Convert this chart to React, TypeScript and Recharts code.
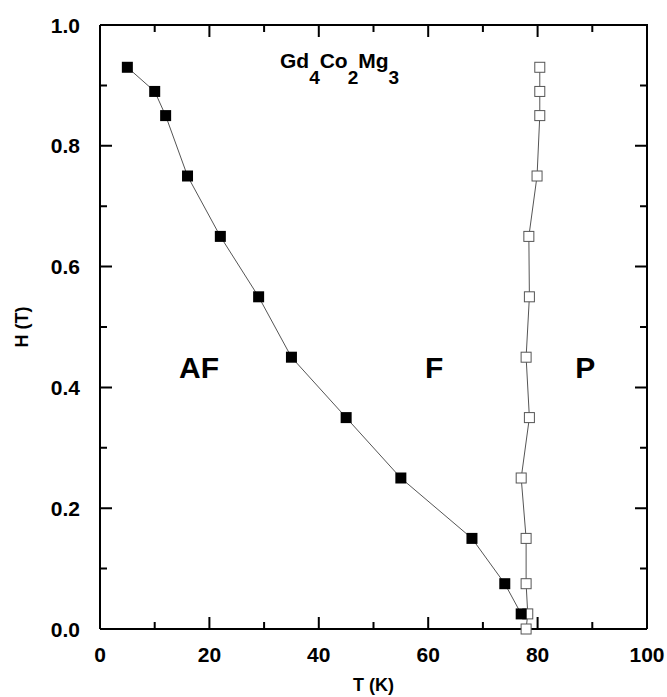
import React from 'react';
import { ScatterChart, Scatter, XAxis, YAxis, ReferenceDot } from 'recharts';

// antiferro -> ferro transition (filled squares)
const afT = [5, 10, 12, 16, 22, 29, 35, 45, 55, 68, 74, 77];
const afH = [0.93, 0.89, 0.85, 0.75, 0.65, 0.55, 0.45, 0.35, 0.25, 0.15, 0.075, 0.025];

// ferro -> para transition (open squares)
const pT = [80.4, 80.4, 80.4, 79.9, 78.4, 78.5, 77.9, 78.5, 77.0, 77.9, 77.9, 78.2, 77.9];
const pH = [0.93, 0.89, 0.85, 0.75, 0.65, 0.55, 0.45, 0.35, 0.25, 0.15, 0.075, 0.025, 0.0];

const xTicks = [0, 10, 20, 30, 40, 50, 60, 70, 80, 90, 100];
const yTicks = [0, 0.1, 0.2, 0.3, 0.4, 0.5, 0.6, 0.7, 0.8, 0.9, 1.0];

const regionLabels = [
  { text: 'AF', t: 18.1, h: 0.434 },
  { text: 'F', t: 61.1, h: 0.434 },
  { text: 'P', t: 88.7, h: 0.434 },
];

const afData = afT.map((t, i) => ({ t, h: afH[i] }));
const pData = pT.map((t, i) => ({ t, h: pH[i] }));

const FONT = '"Liberation Sans", Arial, sans-serif';

const W = 667;
const H = 697;
const MARGIN = { top: 25, right: 20, left: 40, bottom: 0 };
const YAXIS_W = 60;
const XAXIS_H = 68;
const PLOT_W = W - MARGIN.left - YAXIS_W - MARGIN.right;
const PLOT_H = H - MARGIN.top - MARGIN.bottom - XAXIS_H;

const isMajorX = (v: number) => v % 20 === 0;
const isMajorY = (v: number) => Math.round(v * 10) % 2 === 0;

// bottom tick: inward mark at the bottom, mirrored mark at the top, label below
const BottomTick = (props: any) => {
  const { x, y, payload } = props;
  const v = payload.value;
  const len = isMajorX(v) ? 12 : 7;
  const top = y - PLOT_H;
  return (
    <g>
      <path d={`M${x},${y}L${x},${y - len}M${x},${top}L${x},${top + len}`} stroke="#000" strokeWidth={2} fill="none" />
      {isMajorX(v) ? (
        <text x={x} y={y + 33} textAnchor="middle" fontFamily={FONT} fontWeight="bold" fontSize={21} fill="#000">
          {v}
        </text>
      ) : null}
    </g>
  );
};

// left tick: inward mark at the left, mirrored mark at the right, label to the left
const LeftTick = (props: any) => {
  const { x, y, payload } = props;
  const v = payload.value;
  const len = isMajorY(v) ? 12 : 7;
  const right = x + PLOT_W;
  return (
    <g>
      <path d={`M${x},${y}L${x + len},${y}M${right},${y}L${right - len},${y}`} stroke="#000" strokeWidth={2} fill="none" />
      {isMajorY(v) ? (
        <text x={x - 20} y={y + 7.5} textAnchor="end" fontFamily={FONT} fontWeight="bold" fontSize={21} fill="#000">
          {v.toFixed(1)}
        </text>
      ) : null}
      {v === 1 ? (
        <path d={`M${x},${y}L${right},${y}L${right},${y + PLOT_H}`} stroke="#000" strokeWidth={2} fill="none" />
      ) : null}
    </g>
  );
};

const FilledSquare = (props: any) => {
  const { cx, cy } = props;
  return <rect x={cx - 5.5} y={cy - 5.5} width={11} height={11} fill="#000" />;
};

const OpenSquare = (props: any) => {
  const { cx, cy } = props;
  return <rect x={cx - 5} y={cy - 5} width={10} height={10} fill="#fff" stroke="#555" strokeWidth={1} />;
};

const Title = (props: any) => {
  const vb = props.viewBox;
  const x = vb.x + (vb.width || 0) / 2;
  const y = vb.y + (vb.height || 0) / 2;
  return (
    <text x={x} y={y} fontFamily={FONT} fontWeight="bold" fontSize={21} fill="#000">
      Gd
      <tspan dy={16} fontSize={19}>4</tspan>
      <tspan dy={-16}>Co</tspan>
      <tspan dy={16} fontSize={19}>2</tspan>
      <tspan dy={-16}>Mg</tspan>
      <tspan dy={16} fontSize={19}>3</tspan>
    </text>
  );
};

export default function App() {
  return (
    <div style={{ position: 'absolute', left: 0, top: 0 }}>
      <ScatterChart width={W} height={H} margin={MARGIN}>
        <XAxis
          type="number"
          dataKey="t"
          domain={[0, 100]}
          ticks={xTicks}
          interval={0}
          tickSize={0}
          tickMargin={0}
          height={XAXIS_H}
          axisLine={{ stroke: '#000', strokeWidth: 2 }}
          tickLine={false}
          tick={<BottomTick />}
          label={{
            value: 'T (K)',
            position: 'insideBottom',
            offset: 6,
            style: { fontFamily: FONT, fontWeight: 'bold', fontSize: 18, fill: '#000' },
          }}
        />
        <YAxis
          type="number"
          dataKey="h"
          domain={[0, 1]}
          ticks={yTicks}
          interval={0}
          tickSize={0}
          tickMargin={0}
          width={YAXIS_W}
          axisLine={{ stroke: '#000', strokeWidth: 2 }}
          tickLine={false}
          tick={<LeftTick />}
          label={{
            value: 'H (T)',
            angle: -90,
            position: 'insideLeft',
            offset: -18,
            style: { fontFamily: FONT, fontWeight: 'bold', fontSize: 18, fill: '#000', textAnchor: 'middle' },
          }}
        />
        <Scatter
          data={pData}
          line={{ stroke: '#555', strokeWidth: 1 }}
          lineType="joint"
          shape={<OpenSquare />}
          isAnimationActive={false}
        />
        <Scatter
          data={afData}
          line={{ stroke: '#555', strokeWidth: 1 }}
          lineType="joint"
          shape={<FilledSquare />}
          isAnimationActive={false}
        />
        {regionLabels.map((r) => (
          <ReferenceDot
            key={r.text}
            x={r.t}
            y={r.h}
            r={1}
            fill="none"
            stroke="none"
            label={{
              value: r.text,
              position: 'center',
              style: { fontFamily: FONT, fontWeight: 'bold', fontSize: 30, fill: '#000' },
            }}
          />
        ))}
        <ReferenceDot x={32.9} y={0.9285} r={1} fill="none" stroke="none" label={<Title />} />
      </ScatterChart>
    </div>
  );
}
